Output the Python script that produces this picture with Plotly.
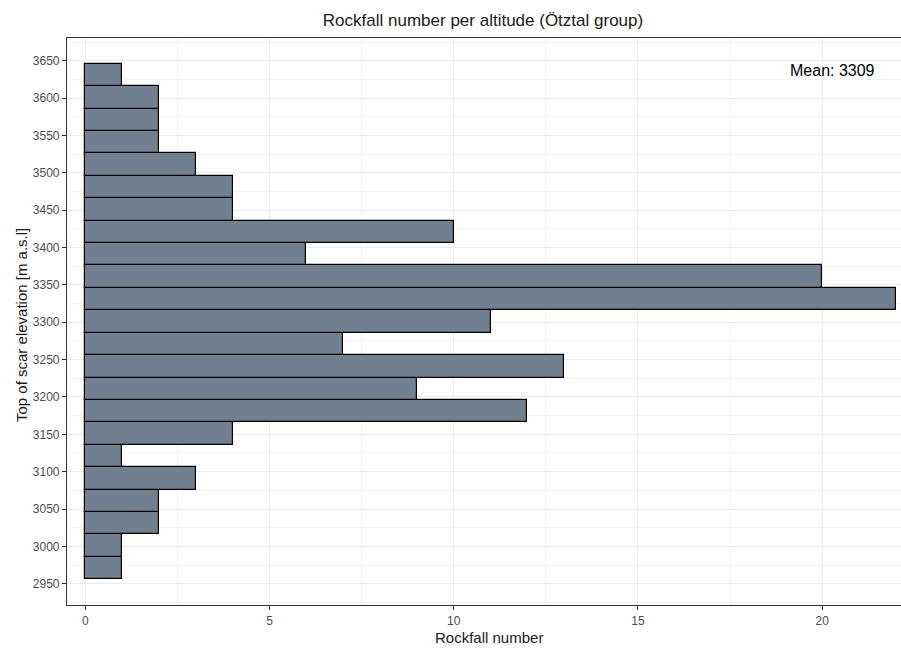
import plotly.graph_objects as go

# Histogram of rockfall scar tops, 30 m elevation bins (bin centres in m a.s.l.)
bin_centres = [2971, 3001, 3031, 3061, 3091, 3121, 3151, 3181, 3211, 3241, 3271, 3301,
               3331, 3361, 3391, 3421, 3451, 3481, 3511, 3541, 3571, 3601, 3631]
counts = [1, 1, 2, 2, 3, 1, 4, 12, 9, 13, 7, 11, 22, 20, 6, 10, 4, 4, 3, 2, 2, 2, 1]
bin_width = 30

y_ticks = list(range(2950, 3651, 50))
x_ticks = [0, 5, 10, 15, 20]
mean_label = "Mean: 3309"

W, H = 901, 649
L, R, T, B = 67, 0, 38, 44
FONT = "Liberation Sans, Arial, sans-serif"

fig = go.Figure(
    go.Bar(
        y=bin_centres,
        x=counts,
        orientation="h",
        width=bin_width,
        marker=dict(color="#708090", line=dict(color="#000000", width=1.2)),
        hoverinfo="x+y",
    )
)

grid_major = "#EBEBEB"
grid_minor = "#F4F4F4"

fig.update_xaxes(
    range=[-0.5, 22.14],
    tickvals=x_ticks,
    ticks="outside",
    ticklen=4,
    tickcolor="#333333",
    tickfont=dict(family=FONT, size=12, color="#4D4D4D"),
    showgrid=True,
    gridcolor=grid_major,
    gridwidth=1,
    minor=dict(tickvals=[2.5, 7.5, 12.5, 17.5], showgrid=True, gridcolor=grid_minor, gridwidth=1, ticks=""),
    showline=True,
    linecolor="#333333",
    linewidth=1.2,
    mirror=True,
    zeroline=False,
)
fig.update_yaxes(
    range=[2921.5, 3680.5],
    tickvals=y_ticks,
    ticks="outside",
    ticklen=4,
    tickcolor="#333333",
    tickfont=dict(family=FONT, size=12, color="#4D4D4D"),
    showgrid=True,
    gridcolor=grid_major,
    gridwidth=1,
    minor=dict(dtick=50, tick0=2975, showgrid=True, gridcolor=grid_minor, gridwidth=1, ticks=""),
    showline=True,
    linecolor="#333333",
    linewidth=1.2,
    mirror=False,
    zeroline=False,
)

fig.update_layout(
    width=W,
    height=H,
    margin=dict(l=L, r=R, t=T, b=B),
    paper_bgcolor="white",
    plot_bgcolor="white",
    showlegend=False,
    bargap=0,
    font=dict(family=FONT, color="#000000"),
    title=dict(
        text="Rockfall number per altitude (Ötztal group)",
        x=483 / W,
        xanchor="center",
        y=1 - 20 / H,
        yanchor="middle",
        font=dict(family=FONT, size=17, color="#1A1A1A"),
    ),
    annotations=[
        dict(
            text=mean_label,
            xref="paper", yref="paper",
            x=(832 - L) / (W - L - R), y=(H - B - 70) / (H - T - B),
            xanchor="center", yanchor="middle",
            showarrow=False,
            font=dict(family=FONT, size=16, color="#000000"),
        ),
        dict(
            text="Rockfall number",
            xref="paper", yref="paper",
            x=(489 - L) / (W - L - R), y=-(637 - (H - B)) / (H - T - B),
            xanchor="center", yanchor="middle",
            showarrow=False,
            font=dict(family=FONT, size=15, color="#1A1A1A"),
        ),
        dict(
            text="Top of scar elevation [m a.s.l]",
            xref="paper", yref="paper",
            x=-(L - 21) / (W - L - R), y=(H - B - 325) / (H - T - B),
            xanchor="center", yanchor="middle",
            textangle=-90,
            showarrow=False,
            font=dict(family=FONT, size=15, color="#1A1A1A"),
        ),
    ],
)

fig.write_html("out.html")
